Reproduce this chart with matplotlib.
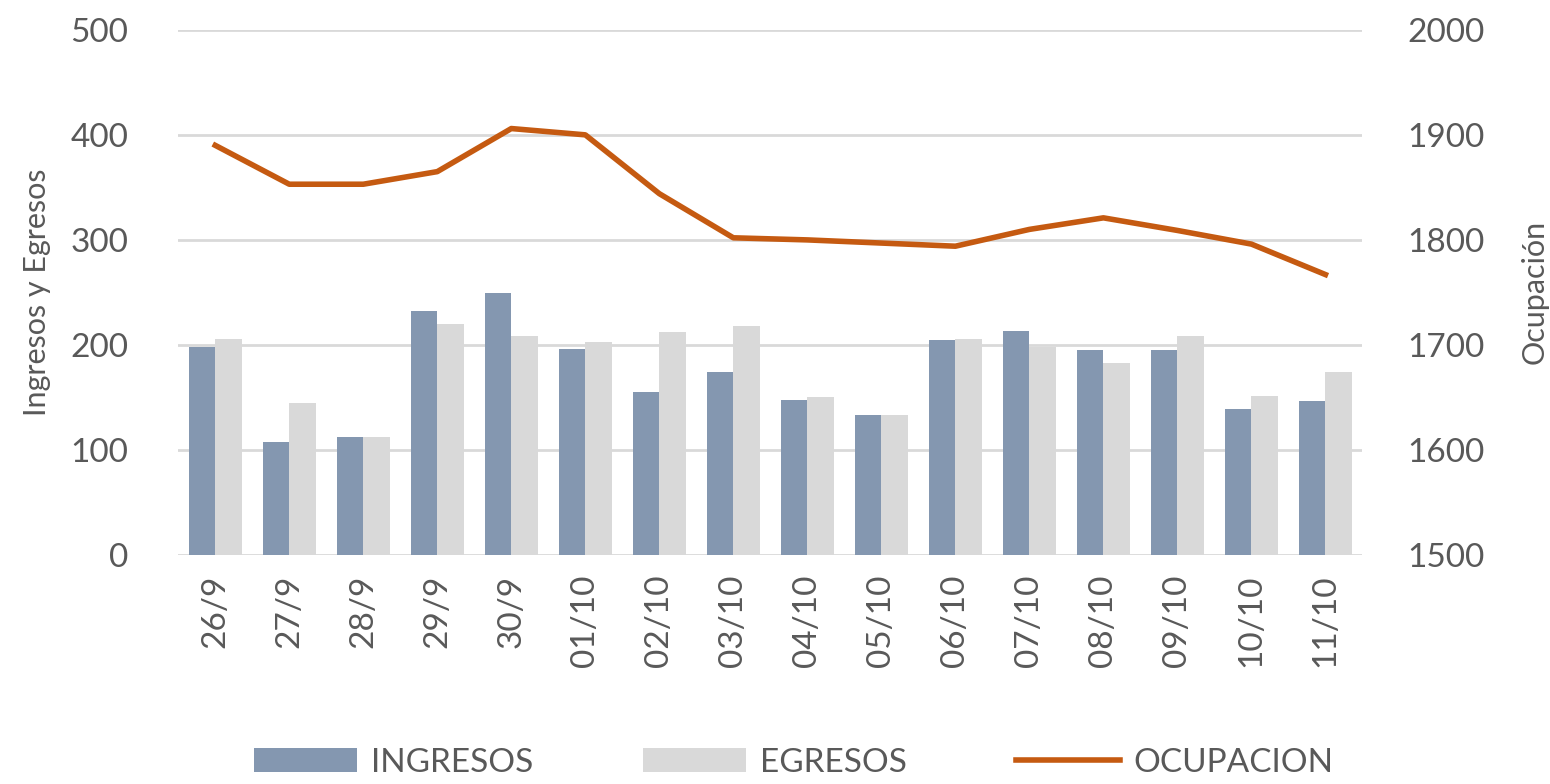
import numpy as np
import matplotlib
matplotlib.use("Agg")
import matplotlib.pyplot as plt

plt.rcParams['font.family'] = ['Lato', 'DejaVu Sans']

# Data
fechas = ["26/9", "27/9", "28/9", "29/9", "30/9", "01/10", "02/10", "03/10",
          "04/10", "05/10", "06/10", "07/10", "08/10", "09/10", "10/10", "11/10"]
ingresos = [198, 108, 112, 232, 249, 196, 155, 174, 148, 133, 205, 213, 195, 195, 139, 147]
egresos = [206, 145, 112, 220, 209, 203, 212, 218, 150, 133, 206, 198, 183, 209, 151, 174]
ocupacion = [1890, 1853, 1853, 1865, 1906, 1900, 1844, 1802, 1800, 1797, 1794,
             1810, 1821, 1809, 1796, 1767]

c_ing = '#8497b0'
c_egr = '#d9d9d9'
c_ocu = '#c55a11'
c_txt = '#595959'
c_grid = '#d9d9d9'

fig = plt.figure(figsize=(15.5, 7.84), dpi=100)
ax = fig.add_axes([0.115, 0.292, 0.764, 0.67])
ax2 = ax.twinx()

x = np.arange(len(fechas))
w = 0.36
ax.bar(x - w/2, ingresos, w, color=c_ing, label='INGRESOS', zorder=2)
ax.bar(x + w/2, egresos, w, color=c_egr, label='EGRESOS', zorder=2)
ax2.plot(x, ocupacion, color=c_ocu, lw=4, label='OCUPACION', zorder=3)

ax.set_xlim(-0.5, len(fechas) - 0.5)
ax.set_ylim(0, 500)
ax.set_yticks(range(0, 501, 100))
ax2.set_ylim(1500, 2000)
ax2.set_yticks(range(1500, 2001, 100))

ax.yaxis.grid(True, color=c_grid, lw=2, zorder=0)
ax.set_axisbelow(True)
for a in (ax, ax2):
    for s in a.spines.values():
        s.set_visible(False)
    a.tick_params(length=0, labelsize=24, colors=c_txt)
ax.tick_params(axis='y', pad=36)
ax2.tick_params(axis='y', pad=32)
ax.tick_params(axis='x', pad=14)

ax.set_xticks(x)
ax.set_xticklabels(fechas, rotation=90)

ax.set_ylabel('Ingresos y Egresos', fontsize=22, color=c_txt, labelpad=14)
ax2.set_ylabel('Ocupación', fontsize=22, color=c_txt, labelpad=26)

h1, l1 = ax.get_legend_handles_labels()
h2, l2 = ax2.get_legend_handles_labels()
fig.legend(h1 + h2, l1 + l2, loc='lower center', bbox_to_anchor=(0.512, -0.03),
           ncol=3, frameon=False, fontsize=24, labelcolor=c_txt,
           handlelength=3.1, handleheight=0.75, handletextpad=0.4,
           columnspacing=3.3)

fig.savefig('out.png', dpi=100)
